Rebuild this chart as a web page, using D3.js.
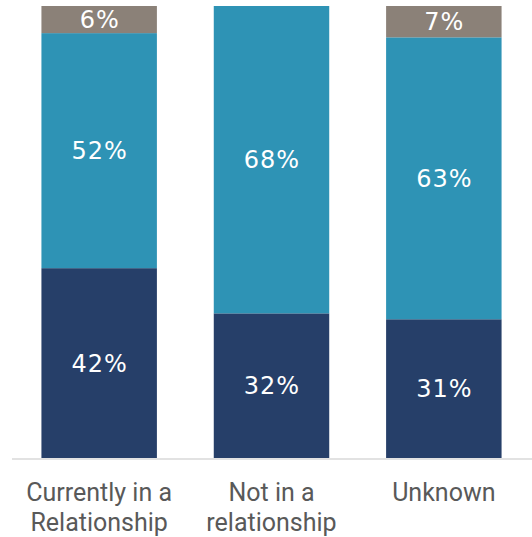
<!DOCTYPE html>
<html>
<head>
<meta charset="utf-8">
<script src="https://cdnjs.cloudflare.com/ajax/libs/d3/7.8.5/d3.min.js"></script>
<style>
  body { margin: 0; background: #fff; }
  svg { display: block; }
</style>
</head>
<body>
<svg id="chart" width="532" height="537"></svg>
<script>
// data
var categories = ["Currently in a Relationship", "Not in a relationship", "Unknown"];
var catLines = [["Currently in a", "Relationship"], ["Not in a", "relationship"], ["Unknown"]];
var seriesKeys = ["bottom", "middle", "top"];
var bottomVals = [42, 32, 31];
var middleVals = [52, 68, 63];
var topVals = [6, 0, 7];

var colors = { bottom: "#263f69", middle: "#2e93b5", top: "#8b8178" };

var rows = categories.map(function(c, i) {
  return { cat: c, bottom: bottomVals[i], middle: middleVals[i], top: topVals[i] };
});

var svg = d3.select("#chart");

var x = d3.scaleBand()
  .domain(categories)
  .range([13, 530])
  .paddingInner(0.33)
  .paddingOuter(0.165);

var y = d3.scaleLinear()
  .domain([0, 1])
  .range([458, 6]);

var stacked = d3.stack()
  .keys(seriesKeys)
  .offset(d3.stackOffsetExpand)(rows);

var layers = svg.selectAll("g.layer")
  .data(stacked)
  .enter().append("g")
  .attr("class", "layer")
  .attr("fill", function(d) { return colors[d.key]; });

layers.selectAll("rect")
  .data(function(d) { return d; })
  .enter().append("rect")
  .attr("x", function(d) { return x(d.data.cat); })
  .attr("width", x.bandwidth())
  .attr("y", function(d) { return y(d[1]); })
  .attr("height", function(d) { return y(d[0]) - y(d[1]); });

// value labels
stacked.forEach(function(layer) {
  svg.append("g").selectAll("text")
    .data(layer.filter(function(d) { return d.data[layer.key] > 0; }))
    .enter().append("text")
    .attr("x", function(d) { return x(d.data.cat) + x.bandwidth() / 2 + 0.5; })
    .attr("y", function(d) { return (y(d[0]) + y(d[1])) / 2; })
    .attr("dy", "0.36em")
    .attr("text-anchor", "middle")
    .attr("fill", "#fff")
    .style("font-family", "DejaVu Sans")
    .style("font-size", "24px")
    .style("letter-spacing", "1px")
    .text(function(d) { return d.data[layer.key] + "%"; });
});

// baseline
svg.append("line")
  .attr("x1", 12).attr("x2", 532)
  .attr("y1", 459).attr("y2", 459)
  .attr("stroke", "#d9d9d9")
  .attr("stroke-width", 1.5);

// category labels
var catG = svg.append("g").selectAll("text")
  .data(categories)
  .enter().append("text")
  .attr("x", function(d) { return x(d) + x.bandwidth() / 2; })
  .attr("y", 501)
  .attr("text-anchor", "middle")
  .attr("fill", "#595959")
  .style("font-family", "Roboto")
  .style("font-size", "25px");

catG.each(function(d, i) {
  var t = d3.select(this);
  catLines[i].forEach(function(line, j) {
    t.append("tspan")
      .attr("x", x(d) + x.bandwidth() / 2)
      .attr("dy", j === 0 ? 0 : 30)
      .text(line);
  });
});
</script>
</body>
</html>
